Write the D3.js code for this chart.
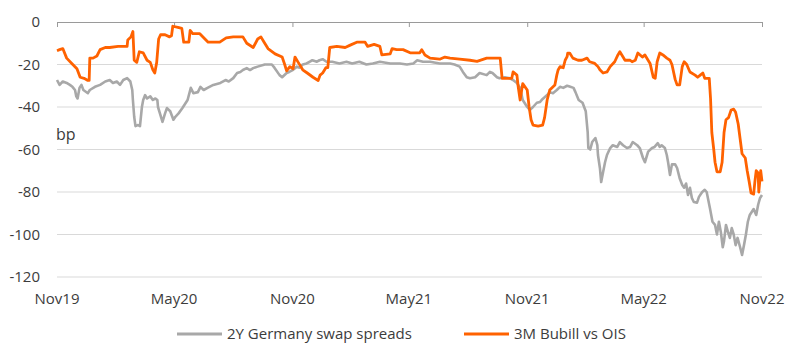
<!DOCTYPE html>
<html>
<head>
<meta charset="utf-8">
<script src="https://cdn.jsdelivr.net/npm/d3@7"></script>
<style>
  html, body { margin: 0; padding: 0; background: #fff; }
  svg { display: block; font-family: "Open Sans", "Noto Sans", sans-serif; }
</style>
</head>
<body>
<svg id="chart" width="800" height="360"></svg>
<script>
// ---------- DATA ----------
const seriesNames = ["2Y Germany swap spreads", "3M Bubill vs OIS"];
const yTicks = [0, -20, -40, -60, -80, -100, -120];
const xTickDates = ["2019-11-01", "2020-05-01", "2020-11-01", "2021-05-01", "2021-11-01", "2022-05-01", "2022-11-01"];
const xTickLabels = ["Nov19", "May20", "Nov20", "May21", "Nov21", "May22", "Nov22"];
const unitLabel = "bp";

const swapDates = [
  "2019-11-01","2019-11-05","2019-11-10","2019-11-16","2019-11-21","2019-11-25","2019-11-29","2019-12-01","2019-12-03","2019-12-06",
  "2019-12-09","2019-12-12","2019-12-19","2019-12-22","2019-12-30","2020-01-07","2020-01-15","2020-01-22","2020-01-27","2020-02-02",
  "2020-02-07","2020-02-12","2020-02-18","2020-02-23","2020-02-26","2020-02-27","2020-02-29","2020-03-02","2020-03-06","2020-03-09",
  "2020-03-12","2020-03-14","2020-03-17","2020-03-20","2020-03-25","2020-03-29","2020-04-02","2020-04-05","2020-04-06","2020-04-09",
  "2020-04-13","2020-04-17","2020-04-20","2020-04-25","2020-04-30","2020-05-03","2020-05-08","2020-05-14","2020-05-22","2020-05-27",
  "2020-05-31","2020-06-07","2020-06-11","2020-06-16","2020-06-22","2020-07-01","2020-07-12","2020-07-20","2020-07-25","2020-08-01",
  "2020-08-07","2020-08-12","2020-08-16","2020-08-22","2020-08-27","2020-09-01","2020-09-08","2020-09-19","2020-09-30","2020-10-04",
  "2020-10-12","2020-10-16","2020-10-23","2020-10-27","2020-11-02","2020-11-08","2020-11-12","2020-11-17","2020-11-23","2020-11-28",
  "2020-12-02","2020-12-09","2020-12-13","2020-12-18","2020-12-24","2021-01-02","2021-01-13","2021-01-24","2021-02-02","2021-02-13",
  "2021-02-24","2021-03-06","2021-03-17","2021-04-02","2021-04-17","2021-04-28","2021-05-08","2021-05-14","2021-05-23","2021-06-03",
  "2021-06-18","2021-07-04","2021-07-11","2021-07-19","2021-07-24","2021-07-30","2021-08-04","2021-08-12","2021-08-19","2021-08-30",
  "2021-09-04","2021-09-08","2021-09-15","2021-09-19","2021-09-27","2021-10-05","2021-10-10","2021-10-16","2021-10-21","2021-10-25",
  "2021-11-01","2021-11-05","2021-11-10","2021-11-16","2021-11-21","2021-11-25","2021-12-02","2021-12-06","2021-12-11","2021-12-17",
  "2021-12-22","2021-12-27","2022-01-02","2022-01-07","2022-01-12","2022-01-15","2022-01-20","2022-01-26","2022-01-31","2022-02-03",
  "2022-02-04","2022-02-07","2022-02-10","2022-02-15","2022-02-18","2022-02-19","2022-02-22","2022-02-24","2022-02-27","2022-03-02",
  "2022-03-05","2022-03-10","2022-03-14","2022-03-21","2022-03-25","2022-03-30","2022-04-05","2022-04-10","2022-04-14","2022-04-21",
  "2022-04-25","2022-04-30","2022-05-03","2022-05-08","2022-05-14","2022-05-18","2022-05-23","2022-05-26","2022-05-29","2022-06-03",
  "2022-06-06","2022-06-08","2022-06-11","2022-06-14","2022-06-19","2022-06-22","2022-06-26","2022-06-30","2022-07-03","2022-07-06",
  "2022-07-09","2022-07-12","2022-07-15","2022-07-18","2022-07-23","2022-07-26","2022-07-31","2022-08-04","2022-08-07","2022-08-12",
  "2022-08-16","2022-08-20","2022-08-23","2022-08-26","2022-08-29","2022-09-01","2022-09-03","2022-09-06","2022-09-09","2022-09-12",
  "2022-09-15","2022-09-18","2022-09-21","2022-09-24","2022-09-28","2022-10-01","2022-10-04","2022-10-07","2022-10-10","2022-10-13",
  "2022-10-16","2022-10-19","2022-10-23","2022-10-26","2022-10-29","2022-11-01"
];
const swapValues = [
  -27.3,-29.6,-28,-28.7,-29.6,-30.5,-32,-35,-36,-31,
  -29.6,-32,-33.5,-32,-30.5,-29.6,-28,-27.3,-28.7,-28,
  -29.6,-27.3,-26.4,-28,-32,-36.7,-44.6,-49,-48.5,-49,
  -40,-36.7,-34.4,-36,-35,-36.7,-36,-36.7,-40,-43,
  -47,-43,-40.5,-42,-46,-44.6,-43,-40.5,-36.7,-31,
  -33.5,-33,-30.5,-32,-31,-29.6,-28.7,-27.3,-28,-26.4,
  -24,-23.5,-22.6,-21.7,-22.6,-21.7,-21,-20,-20,-21.5,
  -25,-26,-24,-23.5,-22.5,-21,-21.5,-20,-19.5,-18.7,
  -18,-18.7,-18,-17.5,-18.7,-18.7,-19.5,-18.7,-19.5,-18.7,
  -20,-19.5,-18.7,-19.5,-19.5,-20,-19.5,-18,-18.7,-18.7,
  -19.5,-19.5,-20,-21,-23.5,-26,-26.5,-26,-24,-25,
  -23.5,-24,-26,-26.5,-26,-26.5,-27.3,-28.7,-31,-36.7,
  -40,-41.4,-40,-38,-37.6,-36.2,-34.4,-33,-33.5,-32,
  -30.5,-31,-30,-30.5,-31,-33,-36.7,-38,-42,-51.8,
  -59.3,-60,-56.5,-54.6,-57.9,-62.6,-68.7,-75.3,-70.6,-66,
  -62.6,-59.3,-58,-58.8,-56.5,-58,-59.3,-58.8,-56.5,-58,
  -59.3,-64,-66,-61,-59.3,-58.8,-57,-58.8,-58,-59.3,
  -62.6,-66,-72,-67,-67,-68.7,-73.5,-76.7,-78,-76,
  -81.4,-78,-82.8,-84.7,-85,-82.3,-80,-79,-80,-87.5,
  -94,-95.5,-100,-94,-98.8,-106,-103,-95.5,-98.8,-101.6,
  -97,-100,-105,-101.6,-106,-109.6,-105,-100,-94,-90.8,
  -89.4,-88,-90.8,-86,-82.8,-81.4
];

const bubillDates = [
  "2019-11-01","2019-11-05","2019-11-10","2019-11-16","2019-11-24","2019-12-02","2019-12-07","2019-12-13","2019-12-19","2019-12-21",
  "2019-12-22","2019-12-27","2020-01-02","2020-01-07","2020-01-15","2020-01-22","2020-02-04","2020-02-18","2020-02-19","2020-02-24",
  "2020-02-27","2020-02-29","2020-03-04","2020-03-08","2020-03-14","2020-03-20","2020-03-25","2020-03-29","2020-04-01","2020-04-04",
  "2020-04-07","2020-04-10","2020-04-17","2020-04-24","2020-04-27","2020-04-29","2020-05-07","2020-05-13","2020-05-16","2020-05-24",
  "2020-05-26","2020-05-30","2020-06-10","2020-06-18","2020-06-23","2020-07-11","2020-07-21","2020-08-01","2020-08-16","2020-08-22",
  "2020-09-01","2020-09-08","2020-09-13","2020-09-18","2020-09-24","2020-10-05","2020-10-16","2020-10-20","2020-10-23","2020-10-28",
  "2020-11-02","2020-11-05","2020-11-10","2020-11-17","2020-11-24","2020-12-03","2020-12-11","2020-12-14","2020-12-18","2020-12-23",
  "2020-12-26","2020-12-29","2021-01-09","2021-01-22","2021-01-29","2021-02-09","2021-02-22","2021-02-26","2021-03-08","2021-03-17",
  "2021-03-20","2021-04-02","2021-04-05","2021-04-12","2021-04-22","2021-05-03","2021-05-18","2021-05-21","2021-05-26","2021-06-03",
  "2021-06-18","2021-06-26","2021-07-04","2021-07-19","2021-08-04","2021-08-15","2021-08-30","2021-09-20","2021-09-23","2021-10-08",
  "2021-10-10","2021-10-16","2021-10-18","2021-10-21","2021-10-25","2021-11-01","2021-11-04","2021-11-07","2021-11-10","2021-11-18",
  "2021-11-25","2021-11-28","2021-12-02","2021-12-06","2021-12-14","2021-12-17","2021-12-19","2021-12-22","2021-12-27","2021-12-30",
  "2022-01-02","2022-01-03","2022-01-06","2022-01-11","2022-01-19","2022-01-25","2022-02-02","2022-02-06","2022-02-14","2022-02-19",
  "2022-02-22","2022-02-27","2022-03-05","2022-03-10","2022-03-17","2022-03-22","2022-03-25","2022-03-30","2022-04-02","2022-04-10",
  "2022-04-13","2022-04-18","2022-04-22","2022-04-29","2022-05-03","2022-05-11","2022-05-16","2022-05-19","2022-05-22","2022-05-26",
  "2022-05-31","2022-06-06","2022-06-11","2022-06-14","2022-06-19","2022-06-22","2022-06-26","2022-06-30","2022-07-03","2022-07-07",
  "2022-07-12","2022-07-20","2022-07-24","2022-07-28","2022-08-01","2022-08-04","2022-08-11","2022-08-13","2022-08-15","2022-08-18",
  "2022-08-20","2022-08-23","2022-08-28","2022-08-31","2022-09-03","2022-09-06","2022-09-10","2022-09-14","2022-09-18","2022-09-21",
  "2022-09-25","2022-09-28","2022-10-01","2022-10-06","2022-10-09","2022-10-12","2022-10-15","2022-10-19","2022-10-21","2022-10-23",
  "2022-10-26","2022-10-27","2022-10-30","2022-11-01"
];
const bubillValues = [
  -13.5,-13,-12.5,-17,-19.5,-22,-26,-26.5,-27.5,-27.5,
  -17,-17,-16,-13,-12,-12,-11.5,-11.5,-8.5,-7,
  -4.5,-18,-19,-14,-14.5,-18,-19,-22.5,-24,-19,
  -8,-6,-6,-7,-6.5,-2,-2.5,-3,-9.5,-9.5,
  -4,-5.5,-5.5,-8,-9.5,-9.5,-7.5,-7,-7,-10,
  -12,-8,-7,-9.5,-12.5,-15,-16.5,-20,-23,-21,
  -22,-16.5,-19,-22.5,-24,-26,-27.5,-25,-24,-21.5,
  -21.5,-12,-11.5,-12,-11,-9.5,-9.5,-11.5,-10.5,-11.5,
  -15.5,-15,-12.5,-13,-13,-14.5,-14.5,-13,-15.5,-17,
  -17.5,-16.5,-17,-17.5,-18,-18.5,-17,-17,-26.5,-26.5,
  -23.5,-25,-30.5,-36.7,-29,-32,-40,-46,-48.5,-49,
  -48.5,-45,-36.7,-32,-29.6,-25,-22.6,-21,-21.5,-18,
  -16.3,-14.6,-14.6,-17,-18,-18,-17,-18.7,-19.5,-21,
  -22.5,-24,-23.5,-21,-18.7,-15.5,-14,-16.5,-18,-18,
  -18.7,-18,-14.6,-16.5,-15.5,-19.5,-26,-26.5,-18.7,-14.6,
  -15.5,-17,-18,-20,-27,-29.6,-29.6,-21,-18.7,-20,
  -23.5,-25,-26,-25,-24,-26.5,-26.5,-36,-52,-60,
  -66,-70.5,-70.5,-66,-52,-46,-45,-41.4,-41,-42.5,
  -48,-55,-62,-64,-70,-75,-80.5,-81,-75,-70,
  -71,-80,-70,-75
];

// ---------- LAYOUT ----------
const svg = d3.select("#chart");
const mLeft = 57, mRight = 762, mTop = 22, mBottom = 277;
const textColor = "#3c3c3c";
const gridColor = "#d9d9d9";
const swapColor = "#a8a8a8";
const bubillColor = "#ff6200";

const parse = d3.timeParse("%Y-%m-%d");
const x = d3.scaleTime()
  .domain([parse(xTickDates[0]), parse(xTickDates[xTickDates.length - 1])])
  .range([mLeft, mRight]);
const y = d3.scaleLinear().domain([-120, 0]).range([mBottom, mTop]);

// gridlines
svg.append("g")
  .selectAll("line")
  .data(yTicks.filter(d => d !== 0))
  .join("line")
  .attr("x1", mLeft).attr("x2", mRight)
  .attr("y1", d => y(d)).attr("y2", d => y(d))
  .attr("stroke", gridColor).attr("stroke-width", 1);

// y labels
svg.append("g")
  .selectAll("text")
  .data(yTicks)
  .join("text")
  .attr("x", 40)
  .attr("y", d => y(d))
  .attr("dy", "0.35em")
  .attr("text-anchor", "end")
  .attr("font-size", 15)
  .attr("fill", textColor)
  .text(d => d);

// zero axis line with ticks (d3 axis)
const xAxis = d3.axisBottom(x)
  .tickValues(xTickDates.map(parse))
  .tickFormat("")
  .tickSize(5)
  .tickSizeOuter(5);
const axisG = svg.append("g")
  .attr("transform", `translate(0,${y(0)})`)
  .call(xAxis);
axisG.selectAll("path, line").attr("stroke", "#9a9a9a").attr("stroke-width", 1);
axisG.selectAll("text").remove();

// x labels at bottom
svg.append("g")
  .selectAll("text")
  .data(xTickDates)
  .join("text")
  .attr("x", d => x(parse(d)))
  .attr("y", 299)
  .attr("dy", "0.35em")
  .attr("text-anchor", "middle")
  .attr("font-size", 15)
  .attr("fill", textColor)
  .text((d, i) => xTickLabels[i]);

// unit label
svg.append("text")
  .attr("x", 56).attr("y", 140)
  .attr("font-size", 16)
  .attr("fill", textColor)
  .text(unitLabel);

// lines
const line = d3.line()
  .x(d => x(d[0]))
  .y(d => y(d[1]));

const swapData = swapDates.map((d, i) => [parse(d), swapValues[i]]);
const bubillData = bubillDates.map((d, i) => [parse(d), bubillValues[i]]);

svg.append("path")
  .datum(swapData)
  .attr("d", line)
  .attr("fill", "none")
  .attr("stroke", swapColor)
  .attr("stroke-width", 2.6)
  .attr("stroke-linejoin", "round");

svg.append("path")
  .datum(bubillData)
  .attr("d", line)
  .attr("fill", "none")
  .attr("stroke", bubillColor)
  .attr("stroke-width", 2.8)
  .attr("stroke-linejoin", "round");

// legend
const legendItems = [
  { name: seriesNames[0], color: swapColor, x0: 177 },
  { name: seriesNames[1], color: bubillColor, x0: 464 }
];
const lg = svg.append("g");
legendItems.forEach(it => {
  lg.append("line")
    .attr("x1", it.x0).attr("x2", it.x0 + 45)
    .attr("y1", 334).attr("y2", 334)
    .attr("stroke", it.color).attr("stroke-width", 3);
  lg.append("text")
    .attr("x", it.x0 + 50).attr("y", 334)
    .attr("dy", "0.35em")
    .attr("font-size", 15)
    .attr("fill", textColor)
    .text(it.name);
});
</script>
</body>
</html>
